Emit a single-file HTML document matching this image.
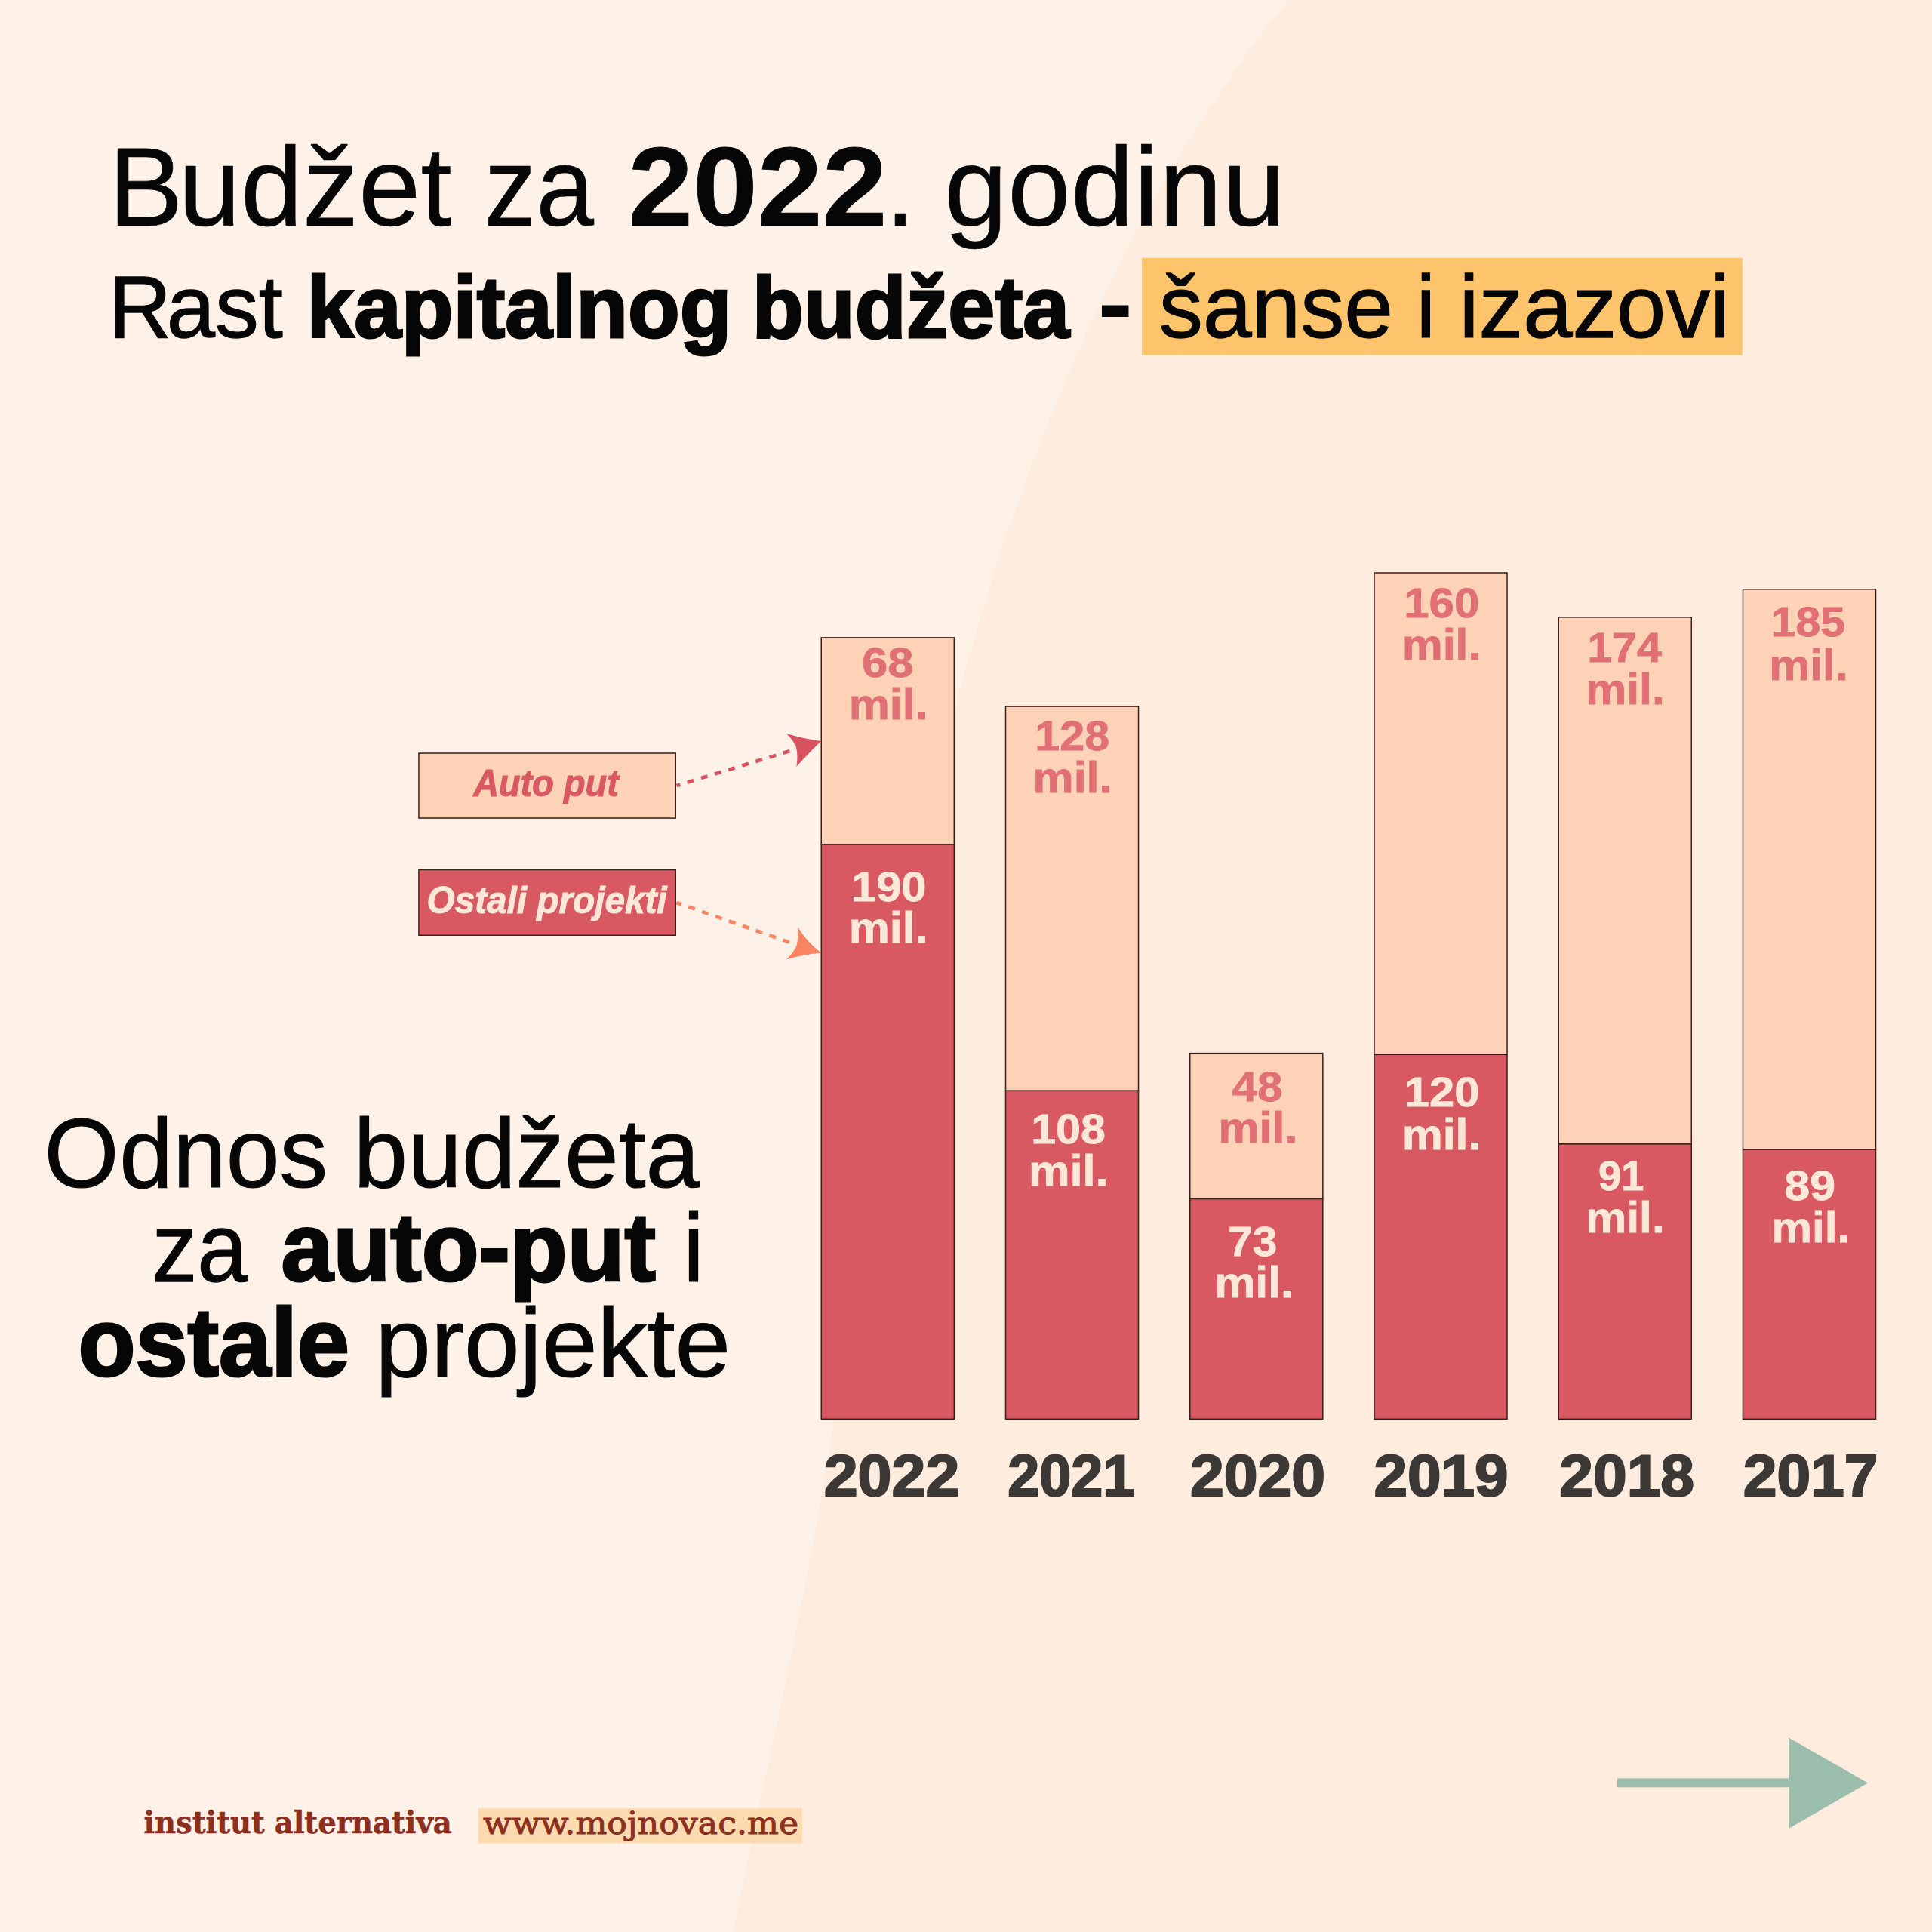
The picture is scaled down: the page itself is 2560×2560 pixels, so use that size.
<!DOCTYPE html>
<html lang="sr"><head><meta charset="utf-8"><title>Budžet za 2022. godinu</title>
<style>html,body{margin:0;padding:0;background:#fef2e8}svg{display:block}text{white-space:pre;font-size:100px}.s{font-family:"Liberation Sans",sans-serif}.f{font-family:"DejaVu Serif",serif}</style></head>
<body>
<svg width="2560" height="2560" viewBox="0 0 2560 2560">
<rect width="2560" height="2560" fill="#fef2e8"/>
<path d="M1706.9,0.0 C1698.7,10.7 1673.2,42.7 1657.5,64.0 C1641.8,85.3 1626.9,106.7 1612.6,128.0 C1598.2,149.3 1584.6,170.7 1571.4,192.0 C1558.2,213.3 1545.7,234.7 1533.6,256.0 C1521.5,277.3 1509.9,298.7 1498.7,320.0 C1487.5,341.3 1476.8,362.7 1466.4,384.0 C1456.0,405.3 1446.1,426.7 1436.4,448.0 C1426.8,469.3 1417.5,490.7 1408.5,512.0 C1399.5,533.3 1390.9,554.7 1382.5,576.0 C1374.1,597.3 1366.1,618.7 1358.3,640.0 C1350.5,661.3 1343.0,682.7 1335.7,704.0 C1328.4,725.3 1321.4,746.7 1314.6,768.0 C1307.8,789.3 1301.4,810.7 1295.1,832.0 C1288.8,853.3 1282.7,874.7 1276.9,896.0 C1271.1,917.3 1265.5,938.7 1260.1,960.0 C1254.7,981.3 1249.5,1002.7 1244.5,1024.0 C1239.5,1045.3 1234.7,1066.7 1230.1,1088.0 C1225.5,1109.3 1221.1,1130.7 1216.8,1152.0 C1212.5,1173.3 1208.5,1194.7 1204.5,1216.0 C1200.5,1237.3 1196.8,1258.7 1193.1,1280.0 C1189.4,1301.3 1185.9,1322.7 1182.5,1344.0 C1179.1,1365.3 1175.7,1386.7 1172.5,1408.0 C1169.3,1429.3 1166.2,1450.7 1163.1,1472.0 C1160.0,1493.3 1157.0,1514.7 1154.0,1536.0 C1151.0,1557.3 1148.0,1578.7 1145.1,1600.0 C1142.1,1621.3 1139.2,1642.7 1136.3,1664.0 C1133.3,1685.3 1130.4,1706.7 1127.4,1728.0 C1124.4,1749.3 1121.3,1770.7 1118.2,1792.0 C1115.1,1813.3 1112.0,1834.7 1108.7,1856.0 C1105.4,1877.3 1102.0,1898.7 1098.6,1920.0 C1095.1,1941.3 1091.7,1962.7 1088.0,1984.0 C1084.3,2005.3 1080.5,2026.7 1076.6,2048.0 C1072.7,2069.3 1068.7,2090.7 1064.6,2112.0 C1060.5,2133.3 1056.3,2154.7 1052.0,2176.0 C1047.7,2197.3 1043.2,2218.7 1038.7,2240.0 C1034.2,2261.3 1029.7,2282.7 1025.1,2304.0 C1020.5,2325.3 1015.8,2346.7 1011.2,2368.0 C1006.6,2389.3 1001.9,2410.7 997.4,2432.0 C992.9,2453.3 988.4,2474.7 984.2,2496.0 C980.0,2517.3 974.2,2549.3 972.2,2560.0 L2560,2560 L2560,0 Z" fill="#feecdf"/>
<rect x="1513" y="341.8" width="795.7" height="128.6" fill="#fdc46c"/>
<rect x="1088.27" y="844.90" width="176.03" height="274.10" fill="#fdd2b6" stroke="#3a1f1b" stroke-width="1.5"/>
<rect x="1088.27" y="1119.00" width="176.03" height="761.30" fill="#d85961" stroke="#3a1f1b" stroke-width="1.5"/>
<rect x="1332.51" y="936.10" width="176.03" height="509.30" fill="#fdd2b6" stroke="#3a1f1b" stroke-width="1.5"/>
<rect x="1332.51" y="1445.40" width="176.03" height="434.90" fill="#d85961" stroke="#3a1f1b" stroke-width="1.5"/>
<rect x="1576.75" y="1395.60" width="176.03" height="193.00" fill="#fdd2b6" stroke="#3a1f1b" stroke-width="1.5"/>
<rect x="1576.75" y="1588.60" width="176.03" height="291.70" fill="#d85961" stroke="#3a1f1b" stroke-width="1.5"/>
<rect x="1820.99" y="759.00" width="176.03" height="638.30" fill="#fdd2b6" stroke="#3a1f1b" stroke-width="1.5"/>
<rect x="1820.99" y="1397.30" width="176.03" height="483.00" fill="#d85961" stroke="#3a1f1b" stroke-width="1.5"/>
<rect x="2065.23" y="817.90" width="176.03" height="697.90" fill="#fdd2b6" stroke="#3a1f1b" stroke-width="1.5"/>
<rect x="2065.23" y="1515.80" width="176.03" height="364.50" fill="#d85961" stroke="#3a1f1b" stroke-width="1.5"/>
<rect x="2309.47" y="780.80" width="176.03" height="742.40" fill="#fdd2b6" stroke="#3a1f1b" stroke-width="1.5"/>
<rect x="2309.47" y="1523.20" width="176.03" height="357.10" fill="#d85961" stroke="#3a1f1b" stroke-width="1.5"/>
<rect x="554.95" y="998.05" width="340.30" height="86.00" fill="#fdd2b6" stroke="#3a1f1b" stroke-width="1.5"/>
<rect x="554.95" y="1152.45" width="340.30" height="86.80" fill="#d85961" stroke="#3a1f1b" stroke-width="1.5"/>
<line x1="896.5" y1="1041" x2="1047" y2="995" stroke="#d8525f" stroke-width="4.7" stroke-dasharray="9 9.95" stroke-dashoffset="4"/>
<path d="M1042,972 Q1065.5,979 1088,982 Q1070,999.6 1055.4,1015.7 Q1057.8,1000 1054.5,988.5 Q1050,979.5 1042,972Z" fill="#d8525f"/>
<line x1="896.5" y1="1196" x2="1047" y2="1249" stroke="#fb8562" stroke-width="4.7" stroke-dasharray="9 9.95" stroke-dashoffset="2.2"/>
<path d="M1057.2,1228.6 Q1069,1248 1088,1262.6 Q1063,1265 1041.6,1271.4 Q1051,1263.5 1055.5,1253 Q1058.2,1241 1057.2,1228.6Z" fill="#fb8562"/>
<rect x="633.6" y="2396.3" width="429.4" height="46.2" fill="#fddbb0"/>
<rect x="2142.9" y="2356.4" width="229.1" height="11.9" fill="#9bbdab"/>
<path d="M2370,2302.4 L2475,2362.6 L2370,2423 Z" fill="#9bbdab"/>
<text transform="translate(0 299.45) scale(1.4802 1.4794)" x="97.29 159.77" class="s" font-weight="400" font-style="normal" fill="#060606" stroke="#060606" stroke-width="0.47" stroke-linejoin="miter">Budžet</text>
<text transform="translate(641.85 299.45) scale(1.3755 1.4794)" class="s" font-weight="400" font-style="normal" fill="#060606" stroke="#060606" stroke-width="0.49" stroke-linejoin="miter">za</text>
<text transform="translate(832.27 299.40) scale(1.5428 1.4780)" class="s" font-weight="700" font-style="normal" fill="#060606" stroke="#060606" stroke-width="0.53" stroke-linejoin="miter">2022</text>
<text transform="translate(1172.91 299.45) scale(1.4350 1.4794)" class="s" font-weight="400" font-style="normal" fill="#060606" stroke="#060606" stroke-width="0.48" stroke-linejoin="miter">.</text>
<text transform="translate(1251.33 299.45) scale(1.5045 1.4794)" class="s" font-weight="400" font-style="normal" fill="#060606" stroke="#060606" stroke-width="0.47" stroke-linejoin="miter">godinu</text>
<text transform="translate(0 447.35) scale(1.1550 1.1697)" x="124.51 191.10" class="s" font-weight="400" font-style="normal" fill="#060606" stroke="#060606" stroke-width="1.12" stroke-linejoin="miter">Rast</text>
<text transform="translate(406.62 446.50) scale(1.1255 1.1465)" class="s" font-weight="700" font-style="normal" fill="#060606" stroke="#060606" stroke-width="2.64" stroke-linejoin="miter">kapitalnog</text>
<text transform="translate(996.71 446.50) scale(1.1132 1.1465)" class="s" font-weight="700" font-style="normal" fill="#060606" stroke="#060606" stroke-width="2.66" stroke-linejoin="miter">budžeta</text>
<text transform="translate(1454.40 445.83) scale(1.4000 1.2917)" class="s" font-weight="700" font-style="normal" fill="#060606">-</text>
<text transform="translate(1535.76 447.35) scale(1.1625 1.1697)" class="s" font-weight="400" font-style="normal" fill="#060606" stroke="#060606" stroke-width="1.11" stroke-linejoin="miter">šanse</text>
<text transform="translate(1876.82 447.35) scale(1.1346 1.1697)" class="s" font-weight="400" font-style="normal" fill="#060606" stroke="#060606" stroke-width="1.13" stroke-linejoin="miter">i</text>
<text transform="translate(1933.43 447.35) scale(1.1736 1.1697)" class="s" font-weight="400" font-style="normal" fill="#060606" stroke="#060606" stroke-width="1.11" stroke-linejoin="miter">izazovi</text>
<text transform="translate(0 1572.90) scale(1.2732 1.3031)" x="45.90 124.26" class="s" font-weight="400" font-style="normal" fill="#060606" stroke="#060606" stroke-width="0.93" stroke-linejoin="miter">Odnos</text>
<text transform="translate(468.58 1572.90) scale(1.2888 1.3031)" class="s" font-weight="400" font-style="normal" fill="#060606" stroke="#060606" stroke-width="0.93" stroke-linejoin="miter">budžeta</text>
<text transform="translate(201.51 1697.90) scale(1.1971 1.3031)" class="s" font-weight="400" font-style="normal" fill="#060606" stroke="#060606" stroke-width="0.96" stroke-linejoin="miter">za</text>
<text transform="translate(372.48 1696.90) scale(1.2414 1.2757)" class="s" font-weight="700" font-style="normal" fill="#060606" stroke="#060606" stroke-width="2.54" stroke-linejoin="miter">auto-put</text>
<text transform="translate(905.10 1697.90) scale(1.2640 1.3031)" class="s" font-weight="400" font-style="normal" fill="#060606" stroke="#060606" stroke-width="0.94" stroke-linejoin="miter">i</text>
<text transform="translate(103.42 1822.90) scale(1.2440 1.2757)" class="s" font-weight="700" font-style="normal" fill="#060606" stroke="#060606" stroke-width="2.54" stroke-linejoin="miter">ostale</text>
<text transform="translate(497.34 1823.90) scale(1.3235 1.3031)" class="s" font-weight="400" font-style="normal" fill="#060606" stroke="#060606" stroke-width="0.91" stroke-linejoin="miter">projekte</text>
<text transform="translate(1091.68 1981.80) scale(0.8079 0.7717)" class="s" font-weight="700" font-style="normal" fill="#3c3836" stroke="#3c3836" stroke-width="2.79" stroke-linejoin="miter">2022</text>
<text transform="translate(1335.23 1981.80) scale(0.7553 0.7717)" class="s" font-weight="700" font-style="normal" fill="#3c3836" stroke="#3c3836" stroke-width="2.88" stroke-linejoin="miter">2021</text>
<text transform="translate(1576.88 1981.80) scale(0.8060 0.7717)" class="s" font-weight="700" font-style="normal" fill="#3c3836" stroke="#3c3836" stroke-width="2.79" stroke-linejoin="miter">2020</text>
<text transform="translate(1820.50 1981.80) scale(0.8005 0.7717)" class="s" font-weight="700" font-style="normal" fill="#3c3836" stroke="#3c3836" stroke-width="2.80" stroke-linejoin="miter">2019</text>
<text transform="translate(2066.29 1981.80) scale(0.8037 0.7717)" class="s" font-weight="700" font-style="normal" fill="#3c3836" stroke="#3c3836" stroke-width="2.79" stroke-linejoin="miter">2018</text>
<text transform="translate(2309.69 1981.80) scale(0.8037 0.7717)" class="s" font-weight="700" font-style="normal" fill="#3c3836" stroke="#3c3836" stroke-width="2.79" stroke-linejoin="miter">2017</text>
<text transform="translate(627.17 1055.20) scale(0.4687 0.5060)" class="s" font-weight="700" font-style="italic" fill="#d85961" stroke="#d85961" stroke-width="2.05" stroke-linejoin="miter">Auto put</text>
<text transform="translate(565.62 1210.00) scale(0.4768 0.5060)" class="s" font-weight="700" font-style="italic" fill="#fde8d8" stroke="#fde8d8" stroke-width="2.04" stroke-linejoin="miter">Ostali projekti</text>
<text transform="translate(1141.94 897.40) scale(0.6154 0.5495)" class="s" font-weight="700" font-style="normal" fill="#e07074" stroke="#e07074" stroke-width="1.38" stroke-linejoin="miter">68</text>
<text transform="translate(1124.74 953.40) scale(0.6089 0.5669)" class="s" font-weight="700" font-style="normal" fill="#e07074" stroke="#e07074" stroke-width="1.36" stroke-linejoin="miter">mil.</text>
<text transform="translate(1127.99 1193.69) scale(0.5966 0.5495)" class="s" font-weight="700" font-style="normal" fill="#fde8d8" stroke="#fde8d8" stroke-width="1.40" stroke-linejoin="miter">190</text>
<text transform="translate(1124.72 1249.21) scale(0.6092 0.5669)" class="s" font-weight="700" font-style="normal" fill="#fde8d8" stroke="#fde8d8" stroke-width="1.36" stroke-linejoin="miter">mil.</text>
<text transform="translate(1371.28 994.41) scale(0.5928 0.5495)" class="s" font-weight="700" font-style="normal" fill="#e07074" stroke="#e07074" stroke-width="1.40" stroke-linejoin="miter">128</text>
<text transform="translate(1368.51 1050.45) scale(0.6092 0.5669)" class="s" font-weight="700" font-style="normal" fill="#e07074" stroke="#e07074" stroke-width="1.36" stroke-linejoin="miter">mil.</text>
<text transform="translate(1366.25 1514.80) scale(0.5911 0.5495)" class="s" font-weight="700" font-style="normal" fill="#fde8d8" stroke="#fde8d8" stroke-width="1.40" stroke-linejoin="miter">108</text>
<text transform="translate(1362.90 1571.30) scale(0.6139 0.5669)" class="s" font-weight="700" font-style="normal" fill="#fde8d8" stroke="#fde8d8" stroke-width="1.36" stroke-linejoin="miter">mil.</text>
<text transform="translate(1632.50 1458.90) scale(0.6009 0.5495)" class="s" font-weight="700" font-style="normal" fill="#e07074" stroke="#e07074" stroke-width="1.39" stroke-linejoin="miter">48</text>
<text transform="translate(1614.43 1514.40) scale(0.6095 0.5669)" class="s" font-weight="700" font-style="normal" fill="#e07074" stroke="#e07074" stroke-width="1.36" stroke-linejoin="miter">mil.</text>
<text transform="translate(1627.26 1664.10) scale(0.5854 0.5495)" class="s" font-weight="700" font-style="normal" fill="#fde8d8" stroke="#fde8d8" stroke-width="1.41" stroke-linejoin="miter">73</text>
<text transform="translate(1609.14 1719.40) scale(0.6089 0.5669)" class="s" font-weight="700" font-style="normal" fill="#fde8d8" stroke="#fde8d8" stroke-width="1.36" stroke-linejoin="miter">mil.</text>
<text transform="translate(1860.20 817.50) scale(0.6000 0.5495)" class="s" font-weight="700" font-style="normal" fill="#e07074" stroke="#e07074" stroke-width="1.39" stroke-linejoin="miter">160</text>
<text transform="translate(1857.64 873.60) scale(0.6082 0.5669)" class="s" font-weight="700" font-style="normal" fill="#e07074" stroke="#e07074" stroke-width="1.36" stroke-linejoin="miter">mil.</text>
<text transform="translate(1860.82 1466.00) scale(0.5962 0.5495)" class="s" font-weight="700" font-style="normal" fill="#fde8d8" stroke="#fde8d8" stroke-width="1.40" stroke-linejoin="miter">120</text>
<text transform="translate(1857.64 1522.50) scale(0.6082 0.5669)" class="s" font-weight="700" font-style="normal" fill="#fde8d8" stroke="#fde8d8" stroke-width="1.36" stroke-linejoin="miter">mil.</text>
<text transform="translate(2103.25 877.30) scale(0.5912 0.5495)" class="s" font-weight="700" font-style="normal" fill="#e07074" stroke="#e07074" stroke-width="1.40" stroke-linejoin="miter">174</text>
<text transform="translate(2101.15 933.40) scale(0.6076 0.5669)" class="s" font-weight="700" font-style="normal" fill="#e07074" stroke="#e07074" stroke-width="1.36" stroke-linejoin="miter">mil.</text>
<text transform="translate(2118.03 1576.50) scale(0.5423 0.5495)" class="s" font-weight="700" font-style="normal" fill="#fde8d8" stroke="#fde8d8" stroke-width="1.47" stroke-linejoin="miter">91</text>
<text transform="translate(2101.15 1632.60) scale(0.6076 0.5669)" class="s" font-weight="700" font-style="normal" fill="#fde8d8" stroke="#fde8d8" stroke-width="1.36" stroke-linejoin="miter">mil.</text>
<text transform="translate(2346.66 843.00) scale(0.5892 0.5495)" class="s" font-weight="700" font-style="normal" fill="#e07074" stroke="#e07074" stroke-width="1.41" stroke-linejoin="miter">185</text>
<text transform="translate(2344.15 900.60) scale(0.6076 0.5669)" class="s" font-weight="700" font-style="normal" fill="#e07074" stroke="#e07074" stroke-width="1.36" stroke-linejoin="miter">mil.</text>
<text transform="translate(2364.37 1589.50) scale(0.6096 0.5495)" class="s" font-weight="700" font-style="normal" fill="#fde8d8" stroke="#fde8d8" stroke-width="1.38" stroke-linejoin="miter">89</text>
<text transform="translate(2347.16 1645.60) scale(0.6051 0.5669)" class="s" font-weight="700" font-style="normal" fill="#fde8d8" stroke="#fde8d8" stroke-width="1.37" stroke-linejoin="miter">mil.</text>
<text transform="translate(190.49 2429.35) scale(0.3852 0.4081)" class="f" font-weight="700" font-style="normal" fill="#8c2f1f" stroke="#8c2f1f" stroke-width="1.26" stroke-linejoin="miter">institut</text>
<text transform="translate(363.71 2429.35) scale(0.3856 0.4081)" class="f" font-weight="700" font-style="normal" fill="#8c2f1f" stroke="#8c2f1f" stroke-width="1.26" stroke-linejoin="miter">alternativa</text>
<text transform="translate(640.01 2429.50) scale(0.4425 0.4011)" class="f" font-weight="400" font-style="normal" fill="#8c2f1f" stroke="#8c2f1f" stroke-width="2.37" stroke-linejoin="miter">www.mojnovac.me</text>
</svg>
</body></html>
